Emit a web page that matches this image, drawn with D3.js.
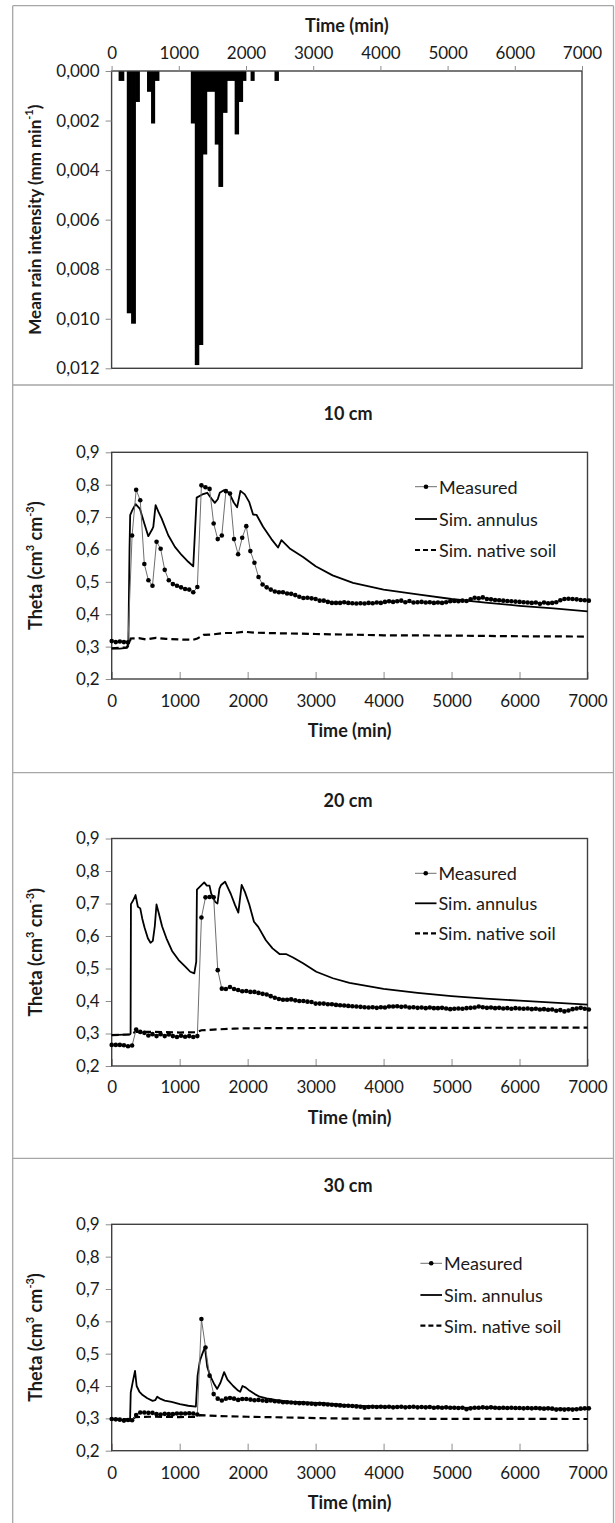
<!DOCTYPE html>
<html><head><meta charset="utf-8">
<script src="https://cdn.jsdelivr.net/npm/d3@7"></script>
<style>
html,body{margin:0;padding:0;background:#fff;}
svg{display:block;font-family:Lato,"Open Sans",sans-serif;}
</style></head>
<body>
<svg id="chart" width="615" height="1523"></svg>
<script>
// ---------- DATA ----------
const timeTicks = [0,1000,2000,3000,4000,5000,6000,7000];
const rainTicks = [0,0.002,0.004,0.006,0.008,0.010,0.012];
const thetaTicks = [0.2,0.3,0.4,0.5,0.6,0.7,0.8,0.9];

// rain bars (start min, end min, intensity mm/min)
const rainStart = [110,232,296,356,533,593,642,1185,1244,1299,1358,1417,1541,1595,1654,1719,1837,1891,1951,2074,2430];
const rainEnd   = [183,296,356,415,593,642,706,1244,1299,1358,1417,1541,1595,1654,1719,1837,1891,1951,2000,2123,2484];
const rainValue = [0.0004,0.00978,0.0102,0.00125,0.00084,0.00212,0.0004,0.00212,0.01187,0.01106,0.00337,0.00084,0.00297,0.00468,0.00169,0.0004,0.00256,0.00125,0.0004,0.0004,0.0004];

// measured sampling times (min)
const measTime = [0,60,120,180,240,300,360,420,480,540,600,660,720,780,840,900,960,1020,1080,1140,1200,1260,1320,1380,1440,1500,1560,1620,1680,1740,1800,1860,1920,1980,2040,2100,2160,2220,2280,2340,2400,2460,2520,2580,2640,2700,2760,2820,2880,2940,3000,3060,3120,3180,3240,3300,3360,3420,3480,3540,3600,3660,3720,3780,3840,3900,3960,4020,4080,4140,4200,4260,4320,4380,4440,4500,4560,4620,4680,4740,4800,4860,4920,4980,5040,5100,5160,5220,5280,5340,5400,5460,5520,5580,5640,5700,5760,5820,5880,5940,6000,6060,6120,6180,6240,6300,6360,6420,6480,6540,6600,6660,6720,6780,6840,6900,6960,7020];

const meas10 = [.317,.314,.316,.314,.313,.643,.784,.752,.555,.505,.488,.624,.602,.537,.505,.493,.488,.483,.478,.476,.468,.484,.798,.792,.787,.680,.632,.643,.780,.773,.632,.585,.636,.672,.595,.559,.515,.492,.483,.476,.470,.468,.468,.464,.463,.459,.454,.450,.451,.449,.447,.442,.442,.438,.435,.435,.435,.437,.435,
.434,.433,.434,.433,.435,.434,.436,.435,
.438,.440,.438,.440,.442,.437,.441,.436,.437,.438,.436,.437,.435,.436,.435,.437,.440,
.441,.440,.442,.441,.446,.451,.449,.452,.447,.446,.444,.443,.442,.441,.440,.439,
.438,.437,.436,.435,.436,.432,.436,.434,.435,.437,.443,.447,.448,.447,.446,.444,.443,.442];

const meas20 = [.265,.265,.265,.264,.261,.263,.312,.305,.302,.294,.298,.292,.298,.292,.297,.292,.289,.293,.290,.292,.289,.292,.657,.719,.720,.719,.495,.438,.437,.443,.437,.434,.430,.431,.428,.428,.425,.422,.420,.415,.410,.406,.404,.404,.405,.402,.400,.400,.398,.397,.392,.392,.392,.390,.390,.388,.387,.386,.385,
.384,.383,.382,.381,.380,.381,.379,.381,
.380,.383,.383,.384,.382,.383,.380,.381,.379,.380,.378,.380,.378,.378,.379,.377,.375,
.376,.377,.376,.378,.379,.380,.383,.381,.379,.380,.378,.379,.377,.378,.376,.378,
.377,.376,.377,.375,.376,.374,.375,.373,.374,.370,.372,.368,.371,.375,.377,.379,.376,.374];

const meas30 = [.298,.297,.296,.293,.295,.294,.310,.318,.318,.317,.317,.313,.312,.314,.313,.313,.315,.315,.315,.316,.315,.312,.607,.519,.432,.375,.361,.355,.361,.363,.361,.357,.360,.360,.358,.356,.357,.355,.354,.355,.353,.352,.350,.350,.349,.348,.347,.347,.346,.345,.344,.345,.344,.343,.342,.341,.340,.339,.339,
.338,.337,.336,.333,.335,.336,.335,.336,
.335,.336,.334,.335,.336,.334,.335,.336,.334,.335,.334,.335,.333,.334,.333,.334,.333,
.333,.332,.333,.328,.331,.333,.333,.334,.333,.334,.333,.332,.333,.332,.333,.332,
.332,.331,.332,.331,.332,.331,.330,.331,.330,.327,.328,.327,.328,.327,.328,.330,.331,.331];

// simulated annulus
const ann10Time = [0,120,220,245,262,272,300,352,416,480,538,590,612,646,690,734,832,930,1028,1126,1200,1250,1346,1405,1468,1517,1560,1590,1650,1728,1796,1845,1894,1958,2022,2080,2130,2227,2350,2447,2497,2619,2815,3000,3250,3550,4000,4500,5000,5500,6000,6500,7000];
const ann10Val  = [.294,.294,.296,.310,.600,.706,.720,.740,.725,.680,.641,.660,.670,.737,.715,.696,.644,.608,.583,.562,.548,.760,.771,.775,.757,.744,.755,.775,.783,.775,.745,.730,.781,.770,.747,.708,.707,.670,.632,.606,.629,.603,.577,.548,.520,.497,.476,.461,.447,.436,.426,.418,.409];

const ann20Time = [0,268,278,283,317,351,385,420,449,483,532,571,605,634,659,693,741,805,888,985,1083,1156,1215,1244,1254,1302,1361,1400,1439,1463,1522,1556,1585,1610,1668,1717,1751,1815,1863,1912,1961,2024,2093,2156,2268,2366,2473,2571,2668,2815,3010,3254,3498,4000,4500,5000,5500,6000,6500,7000];
const ann20Val  = [.295,.297,.300,.698,.710,.726,.690,.685,.654,.626,.593,.579,.585,.630,.697,.670,.630,.593,.554,.526,.506,.490,.485,.521,.743,.753,.765,.755,.755,.731,.705,.700,.746,.757,.767,.745,.730,.695,.672,.757,.735,.697,.644,.628,.587,.562,.544,.544,.534,.516,.490,.470,.456,.437,.425,.415,.407,.401,.395,.389];

const ann30Time = [0,120,270,280,310,343,367,406,455,524,602,640,670,720,780,881,1003,1126,1238,1263,1297,1336,1371,1405,1444,1503,1552,1600,1654,1703,1787,1860,1890,1924,1973,2031,2105,2178,2280,2408,2619,2863,3108,3500,4000,5000,6000,7000];
const ann30Val  = [.298,.295,.293,.380,.413,.447,.400,.383,.372,.362,.354,.356,.367,.360,.355,.351,.344,.339,.336,.431,.478,.501,.520,.460,.434,.408,.391,.410,.443,.420,.400,.386,.382,.400,.395,.385,.375,.367,.362,.357,.352,.349,.347,.340,.336,.333,.331,.329];

// simulated native soil
const nat10Time = [0,230,260,280,400,500,650,800,1000,1200,1260,1350,1500,1650,1800,1950,2100,2500,3000,3500,4000,5000,6000,7000];
const nat10Val  = [.295,.298,.310,.325,.326,.322,.327,.324,.322,.321,.325,.336,.338,.342,.342,.346,.343,.341,.339,.337,.335,.334,.332,.331];
const nat20Time = [0,280,350,600,1000,1250,1320,1500,1800,2000,3000,7000];
const nat20Val  = [.295,.297,.305,.305,.303,.304,.310,.312,.315,.316,.317,.318];
const nat30Time = [0,300,350,600,1000,1260,1300,1600,2000,2500,3000,3500,7000];
const nat30Val  = [.298,.297,.304,.305,.304,.305,.310,.307,.305,.303,.301,.299,.298];

const panelTitles = ["10 cm","20 cm","30 cm"];
const legendLabels = ["Measured","Sim. annulus","Sim. native soil"];

// ---------- DRAWING ----------
const svg = d3.select("#chart");
const FONT = 'Lato,"Open Sans",sans-serif';
const TXT = "#1a1a1a";
const comma = f => s => f(s).replace(".", ",");

// panel frames
const frame = svg.append("g").attr("fill","none").attr("stroke","#a6a6a6").attr("stroke-width",1.3);
frame.append("line").attr("x1",12.7).attr("x2",12.7).attr("y1",5.7).attr("y2",1523);
frame.append("line").attr("x1",613.5).attr("x2",613.5).attr("y1",5.7).attr("y2",1523);
[5.7,385,772.7,1158.3].forEach(y=>frame.append("line").attr("x1",12.7).attr("x2",613.5).attr("y1",y).attr("y2",y));

function styleAxis(g){
  g.select(".domain").remove();
  g.selectAll(".tick line").attr("stroke","#8c8c8c").attr("stroke-width",1);
  g.selectAll(".tick text").attr("fill",TXT).attr("font-size",17).attr("font-family",FONT);
}

// ---- rain panel ----
(function(){
  const L=111.6,R=582,T=71,B=368.3;
  const x = d3.scaleLinear().domain([0,7000]).range([L,R]);
  const y = d3.scaleLinear().domain([0,0.012]).range([T,B]);
  const g = svg.append("g");
  g.selectAll("rect.bar").data(rainValue).enter().append("rect")
    .attr("x",(d,i)=>x(rainStart[i])-0.4).attr("width",(d,i)=>x(rainEnd[i])-x(rainStart[i])+0.8)
    .attr("y",y(0)).attr("height",d=>y(d)-y(0)).attr("fill","#000");
  g.append("rect").attr("x",L).attr("y",T).attr("width",R-L).attr("height",B-T)
    .attr("fill","none").attr("stroke","#404040").attr("stroke-width",1.4);
  const xa = g.append("g").attr("transform",`translate(0,${T})`)
    .call(d3.axisTop(x).tickValues(timeTicks).tickSize(5).tickPadding(8).tickFormat(d3.format("d")));
  styleAxis(xa);
  xa.selectAll(".tick text").attr("dy",null).attr("y",-19).attr("dominant-baseline","central");
  const ya = g.append("g").attr("transform",`translate(${L},0)`)
    .call(d3.axisLeft(y).tickValues(rainTicks).tickSize(6).tickPadding(6).tickFormat(comma(d3.format(".3f"))));
  styleAxis(ya);
  g.append("text").attr("x",(L+R)/2).attr("y",25).attr("text-anchor","middle").attr("dominant-baseline","central")
    .attr("font-weight","bold").attr("font-size",18).attr("fill",TXT).text("Time (min)");
  const yl = g.append("text").attr("transform",`translate(34,${(T+B)/2}) rotate(-90)`).attr("text-anchor","middle")
    .attr("dominant-baseline","central").attr("font-weight","bold").attr("font-size",17).attr("fill",TXT);
  yl.append("tspan").text("Mean rain intensity (mm min");
  yl.append("tspan").attr("font-size",11).attr("dy",-6).text("-1");
  yl.append("tspan").attr("dy",6).text(")");
})();

// ---- theta panels ----
const panels = [
  {title:panelTitles[0], meas:meas10, annT:ann10Time, annV:ann10Val, natT:nat10Time, natV:nat10Val,
   T:452.3,B:679,titleY:413.3,tickY:700,xlabY:730,legY:[486.7,519,550],legX0:415,legX1:437,legTX:439},
  {title:panelTitles[1], meas:meas20, annT:ann20Time, annV:ann20Val, natT:nat20Time, natV:nat20Val,
   T:838.5,B:1066,titleY:800,tickY:1086.7,xlabY:1116.7,legY:[873.3,903.3,933.3],legX0:415,legX1:436.5,legTX:438.4},
  {title:panelTitles[2], meas:meas30, annT:ann30Time, annV:ann30Val, natT:nat30Time, natV:nat30Val,
   T:1224.3,B:1450.7,titleY:1185,tickY:1472.3,xlabY:1501.7,legY:[1263.3,1295,1325.7],legX0:420.4,legX1:442,legTX:444}
];

panels.forEach(p=>{
  const L=111.7,R=587.5;
  const x = d3.scaleLinear().domain([0,7000]).range([L,R]);
  const y = d3.scaleLinear().domain([0.2,0.9]).range([p.B,p.T]);
  const g = svg.append("g");
  // axes
  const xa = g.append("g").attr("transform",`translate(0,${p.B})`)
    .call(d3.axisBottom(x).tickValues(timeTicks).tickSize(-7).tickFormat(d3.format("d")));
  styleAxis(xa);
  xa.selectAll(".tick text").attr("dy",null).attr("y",p.tickY-p.B).attr("dominant-baseline","central");
  const ya = g.append("g").attr("transform",`translate(${L},0)`)
    .call(d3.axisLeft(y).tickValues(thetaTicks).tickSize(6).tickPadding(6).tickFormat(comma(d3.format(".1f"))));
  styleAxis(ya);
  g.append("rect").attr("x",L).attr("y",p.T).attr("width",R-L).attr("height",p.B-p.T)
    .attr("fill","none").attr("stroke","#404040").attr("stroke-width",1.4);
  // native soil (dashed)
  const line = d3.line().x(d=>x(d[0])).y(d=>y(d[1]));
  g.append("path").datum(p.natT.map((t,i)=>[t,p.natV[i]])).attr("d",line)
    .attr("fill","none").attr("stroke","#000").attr("stroke-width",2.2).attr("stroke-dasharray","7,4");
  // annulus
  g.append("path").datum(p.annT.map((t,i)=>[t,p.annV[i]])).attr("d",line)
    .attr("fill","none").attr("stroke","#000").attr("stroke-width",1.8).attr("stroke-linejoin","round");
  // measured
  const md = measTime.map((t,i)=>[t,p.meas[i]]);
  g.append("path").datum(md).attr("d",line).attr("fill","none").attr("stroke","#6e6e6e").attr("stroke-width",1);
  g.selectAll("circle.m").data(md).enter().append("circle")
    .attr("cx",d=>x(d[0])).attr("cy",d=>y(d[1])).attr("r",2.3).attr("fill","#000");
  // title & labels
  g.append("text").attr("x",348).attr("y",p.titleY).attr("text-anchor","middle").attr("dominant-baseline","central")
    .attr("font-weight","bold").attr("font-size",18).attr("fill",TXT).text(p.title);
  g.append("text").attr("x",(L+R)/2).attr("y",p.xlabY).attr("text-anchor","middle").attr("dominant-baseline","central")
    .attr("font-weight","bold").attr("font-size",18).attr("fill",TXT).text("Time (min)");
  const yl = g.append("text").attr("transform",`translate(35,${(p.T+p.B)/2}) rotate(-90)`).attr("text-anchor","middle")
    .attr("dominant-baseline","central").attr("font-weight","bold").attr("font-size",18).attr("fill",TXT);
  yl.append("tspan").text("Theta (cm");
  yl.append("tspan").attr("font-size",11).attr("dy",-6).text("3");
  yl.append("tspan").attr("dy",6).text(" cm");
  yl.append("tspan").attr("font-size",11).attr("dy",-6).text("-3");
  yl.append("tspan").attr("dy",6).text(")");
  // legend
  const lg = g.append("g");
  lg.append("line").attr("x1",p.legX0).attr("x2",p.legX1).attr("y1",p.legY[0]).attr("y2",p.legY[0])
    .attr("stroke","#6e6e6e").attr("stroke-width",1);
  lg.append("circle").attr("cx",(p.legX0+p.legX1)/2).attr("cy",p.legY[0]).attr("r",2.3).attr("fill","#000");
  lg.append("line").attr("x1",p.legX0).attr("x2",p.legX1).attr("y1",p.legY[1]).attr("y2",p.legY[1])
    .attr("stroke","#000").attr("stroke-width",1.8);
  lg.append("line").attr("x1",p.legX0).attr("x2",p.legX1).attr("y1",p.legY[2]).attr("y2",p.legY[2])
    .attr("stroke","#000").attr("stroke-width",2.2).attr("stroke-dasharray","5,3");
  legendLabels.forEach((t,i)=>{
    lg.append("text").attr("x",p.legTX).attr("y",p.legY[i]).attr("dominant-baseline","central")
      .attr("font-size",18).attr("fill",TXT).text(t);
  });
});
</script>
</body></html>
